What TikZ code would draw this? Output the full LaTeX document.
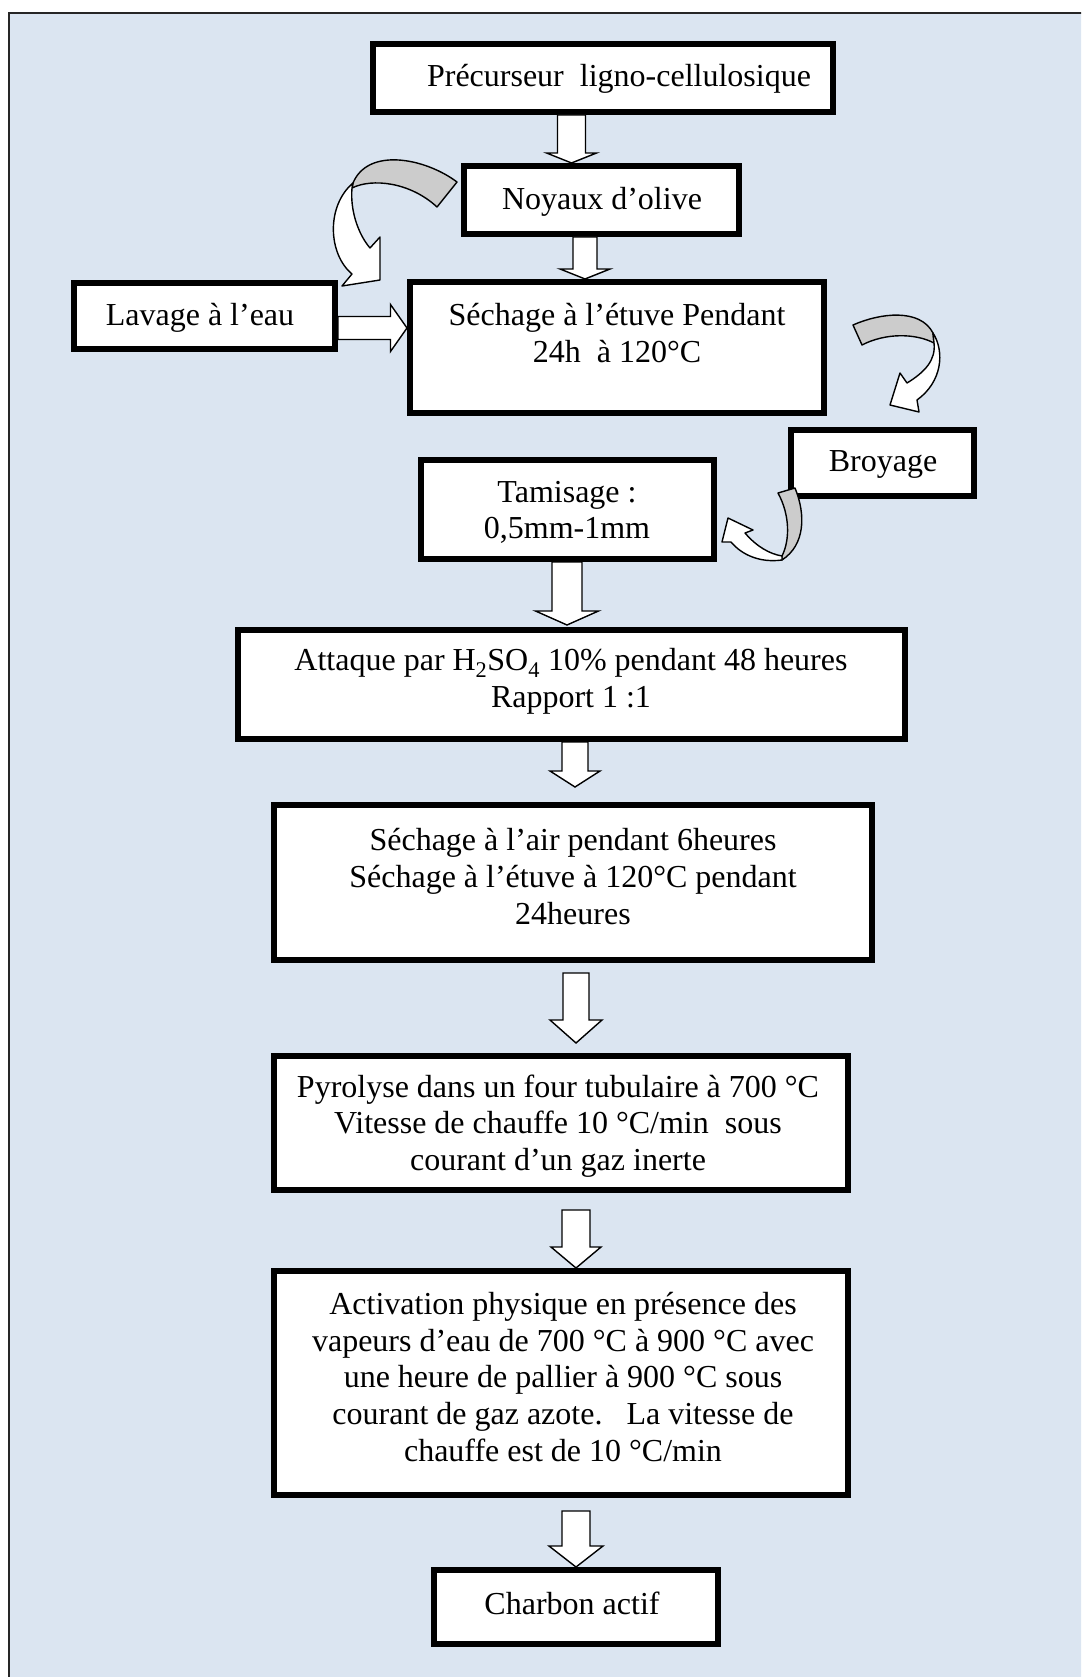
\documentclass[tikz,border=0pt]{standalone}
\usepackage{fontspec}
\setmainfont{Liberation Serif}
\usetikzlibrary{calc}
\definecolor{panelblue}{HTML}{DBE5F1}
\definecolor{ribbongray}{HTML}{CCCCCC}
\tikzset{
  stepbox/.style={draw=black, fill=white, line width=6pt, inner sep=0pt, rectangle},
  steptext/.style={align=center, inner sep=0pt, font=\fontsize{32}{36.7}\selectfont},
  blockarrow/.style={draw=black, fill=white, line width=1.4pt, line join=miter},
  twistfront/.style={draw=black, fill=white, line width=1.4pt, line join=round},
  twistback/.style={draw=black, fill=ribbongray, line width=1.4pt, line join=round},
}
% vertical block arrow: #1 start point, #2 tip point, #3 shaft width, #4 head width, #5 head length
\newcommand\downblock[5]{%
  \path[blockarrow] let \p1=#1, \p2=#2 in
    (\x1-#3pt/2,\y1) -- (\x1-#3pt/2,\y2+#5pt) -- (\x1-#4pt/2,\y2+#5pt) -- (\x1,\y2)
    -- (\x1+#4pt/2,\y2+#5pt) -- (\x1+#3pt/2,\y2+#5pt) -- (\x1+#3pt/2,\y1) -- cycle;}
\begin{document}
\begin{tikzpicture}[x=1pt,y=-1pt]
\useasboundingbox (0,0) rectangle (1081,1677);
\clip (0,0) rectangle (1081,1677);
% panel
\fill[panelblue] (9,13) rectangle (1100,1700);
\draw[line width=2.5pt, black!85] (1100,13) -- (9,13) -- (9,1700);

% process boxes
\node[stepbox, minimum width=460pt, minimum height=68pt] (pre) at (603,78) {};
\node[stepbox, minimum width=275pt, minimum height=68pt] (noy) at (601.5,200) {};
\node[stepbox, minimum width=261pt, minimum height=66pt] (lav) at (204.5,316) {};
\node[stepbox, minimum width=414pt, minimum height=131pt] (sech1) at (617,347.5) {};
\node[stepbox, minimum width=183pt, minimum height=66pt] (broy) at (882.5,463) {};
\node[stepbox, minimum width=293pt, minimum height=99pt] (tam) at (567.5,509.5) {};
\node[stepbox, minimum width=667pt, minimum height=109pt] (att) at (571.5,684.5) {};
\node[stepbox, minimum width=598pt, minimum height=155pt] (sech2) at (573,882.5) {};
\node[stepbox, minimum width=574pt, minimum height=134pt] (pyr) at (561,1123) {};
\node[stepbox, minimum width=574pt, minimum height=224pt] (act) at (561,1383) {};
\node[stepbox, minimum width=284pt, minimum height=74pt] (cha) at (576,1607) {};

% box texts
\node[steptext] (pre-t) at (619,79) {Précurseur\ \ ligno-cellulosique};
\node[steptext] (noy-t) at (602,202) {Noyaux d’olive};
\node[steptext] (lav-t) at (200,318) {Lavage à l’eau};
\node[steptext] (sech1-t) at (617,333) {Séchage à l’étuve Pendant\\24h\ \ à 120°C};
\node[steptext] (broy-t) at (883,464) {Broyage};
\node[steptext] (tam-t) at (567,512.5) {Tamisage :\\0,5mm-1mm};
\node[steptext] (att-t) at (571,681.5) {Attaque par H\textsubscript{2}SO\textsubscript{4} 10\% pendant 48 heures\\Rapport 1 :1};
\node[steptext] (sech2-t) at (573,876.5) {Séchage à l’air pendant 6heures\\Séchage à l’étuve à 120°C pendant\\24heures};
\node[steptext] (pyr-t) at (558,1126) {Pyrolyse dans un four tubulaire à 700 °C\\Vitesse de chauffe 10 °C/min\ \ sous\\courant d’un gaz inerte};
\node[steptext] (act-t) at (563,1377) {Activation physique en présence des\\vapeurs d’eau de 700 °C à 900 °C avec\\une heure de pallier à 900 °C sous\\courant de gaz azote.\ \ \ La vitesse de\\chauffe est de 10 °C/min};
\node[steptext] (cha-t) at (572,1603) {Charbon actif};

% straight block arrows between steps
\downblock{($(pre.south)+(-31.5,0)$)}{($(noy.north)+(-30,0)$)}{28}{50}{10}
\downblock{($(noy.south)+(-16.5,0)$)}{(sech1.north)}{24}{50}{10}
\downblock{($(tam.south)+(-0.5,0)$)}{($(att.north)+(0,-2)$)}{30}{63}{14}
\downblock{($(att.south)+(3.5,0)$)}{($(sech2.north)+(0,-15)$)}{26}{50}{16}
\downblock{($(sech2.south)+(3,10)$)}{($(pyr.north)+(0,-10)$)}{26}{52}{23}
\downblock{($(pyr.south)+(15,17)$)}{(act.north)}{28}{50}{21}
\downblock{($(act.south)+(15,13)$)}{(cha.north)}{28}{54}{21}

% horizontal block arrow from the washing step
\path[blockarrow] let \p1=($(lav.east)+(0,12)$), \p2=($(sech1.west)+(0,-19.5)$) in
  (\x1,\y1+11.5pt) -- (\x2-16.5pt,\y1+11.5pt) -- (\x2-16.5pt,\y1+23.5pt) -- (\x2,\y1)
  -- (\x2-16.5pt,\y1-23.5pt) -- (\x2-16.5pt,\y1-11.5pt) -- (\x1,\y1-11.5pt) -- cycle;

% twisted curved arrows
% olive stones -> washing
\draw[twistback] (457,182) .. controls (425,158) and (368,147) .. (353,183)
  -- (352,188) .. controls (372,178) and (410,182) .. (437,207) -- cycle;
\draw[twistfront] (353,183) .. controls (326,206) and (328,254) .. (352,274)
  -- (342,286) -- (380,280) -- (380,237) -- (370,248)
  .. controls (358,234) and (350,210) .. (352,188) -- cycle;
% drying -> grinding
\draw[twistback] (853,325) .. controls (880,313) and (920,308) .. (933,333)
  -- (934,343) .. controls (915,333) and (885,333) .. (862,345) -- cycle;
\draw[twistfront] (933,333) .. controls (945,352) and (942,382) .. (917,400)
  -- (919,412) -- (890,405) -- (900,373) -- (907,383)
  .. controls (925,372) and (936,360) .. (934,343) -- cycle;
% grinding -> sieving
\draw[twistback] (778,493) -- (795,488) .. controls (806,515) and (805,545) .. (782,560)
  -- (782,556) .. controls (790,540) and (790,515) .. (778,493) -- cycle;
\draw[twistfront] (782,560) .. controls (760,563) and (742,555) .. (731,542)
  -- (722,542) -- (728,518) -- (753,530) -- (745,533)
  .. controls (757,547) and (770,554) .. (782,556) -- cycle;
\end{tikzpicture}
\end{document}
